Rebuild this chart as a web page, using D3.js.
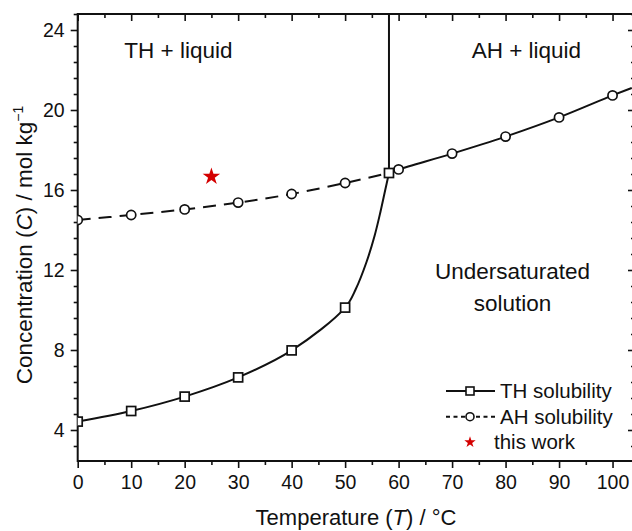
<!DOCTYPE html>
<html>
<head>
<meta charset="utf-8">
<script src="https://cdn.jsdelivr.net/npm/d3@7"></script>
<style>
  html, body { margin: 0; padding: 0; background: #fff; }
  svg { display: block; }
  text { font-family: "Liberation Sans", Arial, sans-serif; fill: #111; }
</style>
</head>
<body>
<svg id="chart" width="632" height="531"></svg>
<script>
// ---------- data ----------
const thTemps = [0, 10, 20, 30, 40, 50, 58.2];
const thConc  = [4.42, 4.95, 5.67, 6.63, 7.98, 10.12, 16.85];
// TH fitted curve
const thFitTemps = [0, 10, 20, 30, 40, 50, 52, 54, 55.5, 56.6, 57.5, 58.2];
const thFitConc  = [4.42, 4.95, 5.67, 6.63, 7.98, 10.12, 11.05, 12.4, 13.7, 14.9, 16.0, 16.85];

const ahTemps = [0, 10, 20, 30, 40, 50, 60, 70, 80, 90, 100];
const ahConc  = [14.5, 14.75, 15.03, 15.37, 15.8, 16.35, 17.03, 17.82, 18.67, 19.63, 20.73];
// AH curve: metastable (dashed) part and stable (solid) part
const ahDashTemps  = [0, 10, 20, 30, 40, 50, 58.2];
const ahDashConc   = [14.5, 14.75, 15.03, 15.37, 15.8, 16.35, 16.85];
const ahSolidTemps = [58.2, 60, 70, 80, 90, 100, 103.6];
const ahSolidConc  = [16.85, 17.03, 17.82, 18.67, 19.63, 20.73, 21.1];

// transition temperature (vertical boundary)
const transT = [58.2];
const transC = [16.85];

const workTemps = [25];
const workConc  = [16.72];

const xTickVals = [0, 10, 20, 30, 40, 50, 60, 70, 80, 90, 100];
const yTickVals = [4, 8, 12, 16, 20, 24];

const regionLabels = ["TH + liquid", "AH + liquid", "Undersaturated", "solution"];
const legendLabels = ["TH solubility", "AH solubility", "this work"];

// ---------- layout ----------
const svg = d3.select("#chart");
const L = 77.7, R = 635, T = 14, B = 461;
const x = d3.scaleLinear().domain([0, 104.2]).range([L, R]);
const y = d3.scaleLinear().domain([2.45, 24.8]).range([B, T]);

const ink = "#111";
const red = "#d40000";
const font = '"Liberation Sans", Arial, sans-serif';

// clip
svg.append("defs").append("clipPath").attr("id", "clip")
  .append("rect").attr("x", L).attr("y", T).attr("width", R - L).attr("height", B - T);

// ---------- axes ----------
const xMinor = d3.range(0, 105, 5).filter(v => v % 10 !== 0);
const yMinor = d3.range(2.4, 24.81, 0.8).map(v => +v.toFixed(1)).filter(v => Math.abs(v / 4 - Math.round(v / 4)) > 1e-6 && v > 2.45);

function styleAxis(g) {
  g.selectAll(".domain").remove();
  g.selectAll("line").attr("stroke", ink).attr("stroke-width", 1.6);
  g.selectAll("text").style("font-family", font).style("font-size", "19.5px").attr("fill", ink);
}

// bottom
svg.append("g").attr("transform", `translate(0,${B})`)
  .call(d3.axisBottom(x).tickValues(xTickVals).tickSize(7).tickPadding(7).tickFormat(d3.format("d")))
  .call(styleAxis);
svg.append("g").attr("transform", `translate(0,${B})`)
  .call(d3.axisBottom(x).tickValues(xMinor).tickSize(4).tickFormat(""))
  .call(styleAxis);

// top (inward)
svg.append("g").attr("transform", `translate(0,${T})`)
  .call(d3.axisBottom(x).tickValues(xTickVals).tickSize(7).tickFormat(""))
  .call(styleAxis);
svg.append("g").attr("transform", `translate(0,${T})`)
  .call(d3.axisBottom(x).tickValues(xMinor).tickSize(4).tickFormat(""))
  .call(styleAxis);

// left
svg.append("g").attr("transform", `translate(${L},0)`)
  .call(d3.axisLeft(y).tickValues(yTickVals).tickSize(7).tickPadding(6).tickFormat(d3.format("d")))
  .call(styleAxis);
svg.append("g").attr("transform", `translate(${L},0)`)
  .call(d3.axisLeft(y).tickValues(yMinor).tickSize(4).tickFormat(""))
  .call(styleAxis);

// right (inward)
svg.append("g").attr("transform", `translate(${R},0)`)
  .call(d3.axisLeft(y).tickValues(yTickVals).tickSize(7).tickFormat(""))
  .call(styleAxis);
svg.append("g").attr("transform", `translate(${R},0)`)
  .call(d3.axisLeft(y).tickValues(yMinor).tickSize(4).tickFormat(""))
  .call(styleAxis);

// frame
svg.append("rect").attr("x", L).attr("y", T).attr("width", R - L).attr("height", B - T)
  .attr("fill", "none").attr("stroke", ink).attr("stroke-width", 2);

// axis titles
const xt = svg.append("text").attr("x", 356).attr("y", 525).attr("text-anchor", "middle")
  .style("font-size", "22px");
xt.append("tspan").text("Temperature (");
xt.append("tspan").style("font-style", "italic").text("T");
xt.append("tspan").text(") / °C");

const yt = svg.append("text").attr("transform", "translate(32,245) rotate(-90)")
  .attr("text-anchor", "middle").style("font-size", "22.5px");
yt.append("tspan").text("Concentration (");
yt.append("tspan").style("font-style", "italic").text("C");
yt.append("tspan").text(") / mol kg");
yt.append("tspan").attr("dy", -9).style("font-size", "14px").text("−1");

// ---------- plot ----------
const plot = svg.append("g").attr("clip-path", "url(#clip)");

const line = d3.line().x(d => x(d[0])).y(d => y(d[1])).curve(d3.curveCatmullRom.alpha(0.5));

// vertical transition line
plot.append("line")
  .attr("x1", x(transT[0])).attr("x2", x(transT[0]))
  .attr("y1", y(24.8)).attr("y2", y(transC[0]))
  .attr("stroke", ink).attr("stroke-width", 2);

// AH dashed
plot.append("path").datum(ahDashTemps.map((t, i) => [t, ahDashConc[i]]))
  .attr("d", line).attr("fill", "none").attr("stroke", ink).attr("stroke-width", 2)
  .attr("stroke-dasharray", "13,8");
// AH solid
plot.append("path").datum(ahSolidTemps.map((t, i) => [t, ahSolidConc[i]]))
  .attr("d", line).attr("fill", "none").attr("stroke", ink).attr("stroke-width", 2);
// TH solid
plot.append("path").datum(thFitTemps.map((t, i) => [t, thFitConc[i]]))
  .attr("d", line).attr("fill", "none").attr("stroke", ink).attr("stroke-width", 2);

// AH circles
plot.selectAll("circle.ah").data(ahTemps.map((t, i) => [t, ahConc[i]])).enter()
  .append("circle").attr("class", "ah")
  .attr("cx", d => x(d[0])).attr("cy", d => y(d[1])).attr("r", 4.6)
  .attr("fill", "#fff").attr("stroke", ink).attr("stroke-width", 1.7);

// TH squares
plot.selectAll("rect.th").data(thTemps.map((t, i) => [t, thConc[i]])).enter()
  .append("rect").attr("class", "th")
  .attr("x", d => x(d[0]) - 4.5).attr("y", d => y(d[1]) - 4.5)
  .attr("width", 9).attr("height", 9)
  .attr("fill", "#fff").attr("stroke", ink).attr("stroke-width", 1.7);

// this work star
const star = d3.symbol().type(d3.symbolStar);
plot.selectAll("path.work").data(workTemps.map((t, i) => [t, workConc[i]])).enter()
  .append("path").attr("class", "work")
  .attr("transform", d => `translate(${x(d[0])},${y(d[1]) + 1})`)
  .attr("d", star.size(95)()).attr("fill", red);

// region labels
svg.append("text").attr("x", 124.3).attr("y", 58.3).style("font-size", "22.5px").text(regionLabels[0]);
svg.append("text").attr("x", 471.7).attr("y", 58.3).style("font-size", "22.5px").text(regionLabels[1]);
svg.append("text").attr("x", 512.5).attr("y", 279).attr("text-anchor", "middle").style("font-size", "22.5px").text(regionLabels[2]);
svg.append("text").attr("x", 512.5).attr("y", 310.5).attr("text-anchor", "middle").style("font-size", "22.5px").text(regionLabels[3]);

// ---------- legend ----------
const lg = svg.append("g");
const rows = [391, 416.7, 441.7];
const lx0 = 446, lx1 = 495, lm = 470;
// TH
lg.append("line").attr("x1", lx0).attr("x2", lx1).attr("y1", rows[0]).attr("y2", rows[0])
  .attr("stroke", ink).attr("stroke-width", 2);
lg.append("rect").attr("x", lm - 4).attr("y", rows[0] - 4).attr("width", 8).attr("height", 8)
  .attr("fill", "#fff").attr("stroke", ink).attr("stroke-width", 1.6);
// AH
lg.append("line").attr("x1", lx0).attr("x2", lx1).attr("y1", rows[1]).attr("y2", rows[1])
  .attr("stroke", ink).attr("stroke-width", 2).attr("stroke-dasharray", "4,3.5");
lg.append("circle").attr("cx", lm).attr("cy", rows[1]).attr("r", 4)
  .attr("fill", "#fff").attr("stroke", ink).attr("stroke-width", 1.6);
// star
lg.append("path").attr("transform", `translate(${lm},${rows[2] + 0.5})`)
  .attr("d", d3.symbol().type(d3.symbolStar).size(40)()).attr("fill", red);

lg.append("text").attr("x", 500).attr("y", rows[0]).attr("dy", "0.35em").style("font-size", "20.5px").text(legendLabels[0]);
lg.append("text").attr("x", 500).attr("y", rows[1]).attr("dy", "0.35em").style("font-size", "20.5px").text(legendLabels[1]);
lg.append("text").attr("x", 494).attr("y", rows[2]).attr("dy", "0.35em").style("font-size", "20.5px").text(legendLabels[2]);
</script>
</body>
</html>
